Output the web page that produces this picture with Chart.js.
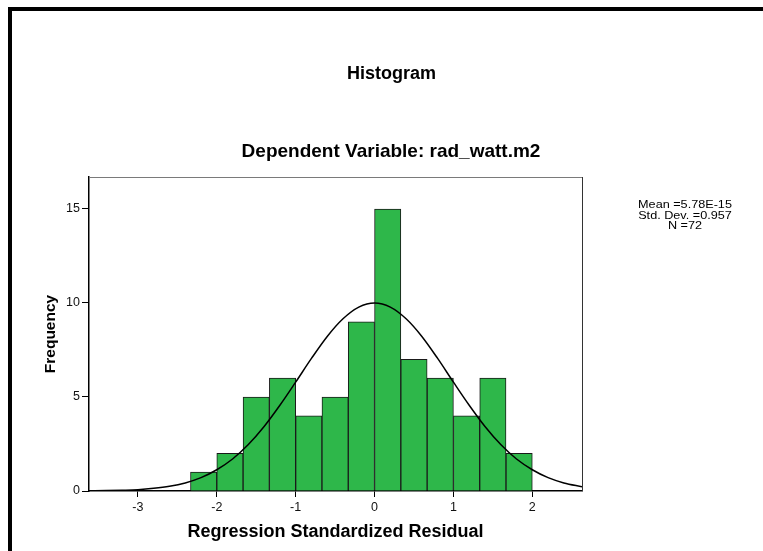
<!DOCTYPE html>
<html>
<head>
<meta charset="utf-8">
<script src="https://cdn.jsdelivr.net/npm/chart.js@4"></script>
<style>
  html, body { margin: 0; padding: 0; background: #fff; }
  canvas { display: block; }
</style>
</head>
<body>
<canvas id="histChart" width="763" height="551"></canvas>
<script>
// Histogram bins (centres of the 1/3-wide bins) and counts
const binCenters = [-2.1667, -1.8333, -1.5, -1.1667, -0.8333, -0.5, -0.1667,
                    0.1667, 0.5, 0.8333, 1.1667, 1.5, 1.8333];
const frequencies = [1, 2, 5, 6, 4, 5, 9, 15, 7, 6, 4, 6, 2];

// Normal curve
const curveX = [-3.62, -3.4, -3.2, -3.0, -2.8, -2.6, -2.4, -2.2, -2.0, -1.8, -1.6,
                -1.4, -1.2, -1.0, -0.8, -0.6, -0.4, -0.2, 0, 0.2, 0.4, 0.6, 0.8,
                1.0, 1.2, 1.4, 1.6, 1.8, 2.0, 2.2, 2.4, 2.63];
const curveY = [0.01, 0.02, 0.04, 0.07, 0.14, 0.25, 0.43, 0.71, 1.13, 1.70, 2.47,
                3.43, 4.56, 5.79, 7.05, 8.22, 9.16, 9.78, 10, 9.78, 9.16, 8.22, 7.05,
                5.79, 4.56, 3.43, 2.47, 1.70, 1.13, 0.71, 0.43, 0.23];

const xTicks = [-3, -2, -1, 0, 1, 2];
const yTicks = [0, 5, 10, 15];

const statLines = ['Mean =5.78E-15', 'Std. Dev. =0.957', 'N =72'];
const mainTitle = 'Histogram';
const subTitle = 'Dependent Variable: rad_watt.m2';

// page frame, titles, stats box and the top/right plot border
const decorPlugin = {
    id: 'decor',
    beforeDraw(chart) {
        const ctx = chart.ctx;
        ctx.save();
        ctx.fillStyle = '#fff';
        ctx.fillRect(0, 0, chart.width, chart.height);
        ctx.fillStyle = '#000';
        ctx.fillRect(8, 7, chart.width - 8, 4);
        ctx.fillRect(8, 7, 4, chart.height - 7);
        ctx.restore();
    },
    afterDraw(chart) {
        const ctx = chart.ctx;
        const a = chart.chartArea;
        ctx.save();
        ctx.lineWidth = 1;
        ctx.strokeStyle = '#7a7a7a';
        ctx.beginPath();
        ctx.moveTo(a.left, a.top + 0.5);
        ctx.lineTo(a.right, a.top + 0.5);
        ctx.stroke();
        ctx.strokeStyle = '#333';
        ctx.beginPath();
        ctx.moveTo(a.right + 0.5, a.top);
        ctx.lineTo(a.right + 0.5, a.bottom);
        ctx.stroke();

        ctx.fillStyle = '#000';
        ctx.textAlign = 'center';
        ctx.textBaseline = 'middle';
        ctx.font = 'bold 18px "Liberation Sans", Arial, sans-serif';
        ctx.fillText(mainTitle, 391.5, 74);
        ctx.font = 'bold 19px "Liberation Sans", Arial, sans-serif';
        ctx.fillText(subTitle, 391, 152);

        // SPSS stats text is a little stretched sideways
        ctx.translate(685, 0);
        ctx.scale(1.15, 1);
        ctx.font = '11px "Liberation Sans", Arial, sans-serif';
        statLines.forEach((t, i) => ctx.fillText(t, 0, 205 + i * 10.5));
        ctx.restore();
    }
};

const ctx = document.getElementById('histChart');
new Chart(ctx, {
    type: 'bar',
    data: {
        datasets: [{
            type: 'line',
            data: curveX.map((x, i) => ({ x: x, y: curveY[i] })),
            borderColor: '#000',
            borderWidth: 1.5,
            pointRadius: 0,
            cubicInterpolationMode: 'monotone',
            fill: false,
            order: 0
        }, {
            type: 'bar',
            data: binCenters.map((x, i) => ({ x: x, y: frequencies[i] })),
            backgroundColor: '#2eb74a',
            borderColor: '#1a1a1a',
            borderWidth: 1,
            barPercentage: 1,
            categoryPercentage: 1,
            order: 1
        }]
    },
    options: {
        responsive: false,
        animation: false,
        devicePixelRatio: 1,
        layout: {
            padding: { left: 31, right: 181, top: 177, bottom: 0 }
        },
        plugins: {
            legend: { display: false },
            tooltip: { enabled: false }
        },
        scales: {
            x: {
                type: 'linear',
                min: -3.62,
                max: 2.63,
                offset: false,
                afterFit: (scale) => { scale.height = 60; },
                afterBuildTicks: (scale) => { scale.ticks = xTicks.map(v => ({ value: v })); },
                grid: { offset: false, drawOnChartArea: false, drawTicks: true, tickLength: 6, color: '#000' },
                border: { color: '#000', width: 1.5 },
                ticks: {
                    padding: 3,
                    color: '#111',
                    font: { family: '"Liberation Sans", Arial, sans-serif', size: 12.5 }
                },
                title: {
                    display: true,
                    text: 'Regression Standardized Residual',
                    color: '#000',
                    padding: { top: 0, bottom: 8 },
                    font: { family: '"Liberation Sans", Arial, sans-serif', size: 18, weight: 'bold' }
                }
            },
            y: {
                min: 0,
                max: 16.7,
                afterFit: (scale) => { scale.width = 58; },
                afterBuildTicks: (scale) => { scale.ticks = yTicks.map(v => ({ value: v })); },
                grid: { drawOnChartArea: false, drawTicks: true, tickLength: 7, color: '#000' },
                border: { color: '#000', width: 1.5 },
                ticks: {
                    padding: 2,
                    color: '#111',
                    font: { family: '"Liberation Sans", Arial, sans-serif', size: 12.5 }
                },
                title: {
                    display: true,
                    text: 'Frequency',
                    color: '#000',
                    padding: { top: 10, bottom: 0 },
                    font: { family: '"Liberation Sans", Arial, sans-serif', size: 15.5, weight: 'bold' }
                }
            }
        }
    },
    plugins: [decorPlugin]
});
</script>
</body>
</html>
